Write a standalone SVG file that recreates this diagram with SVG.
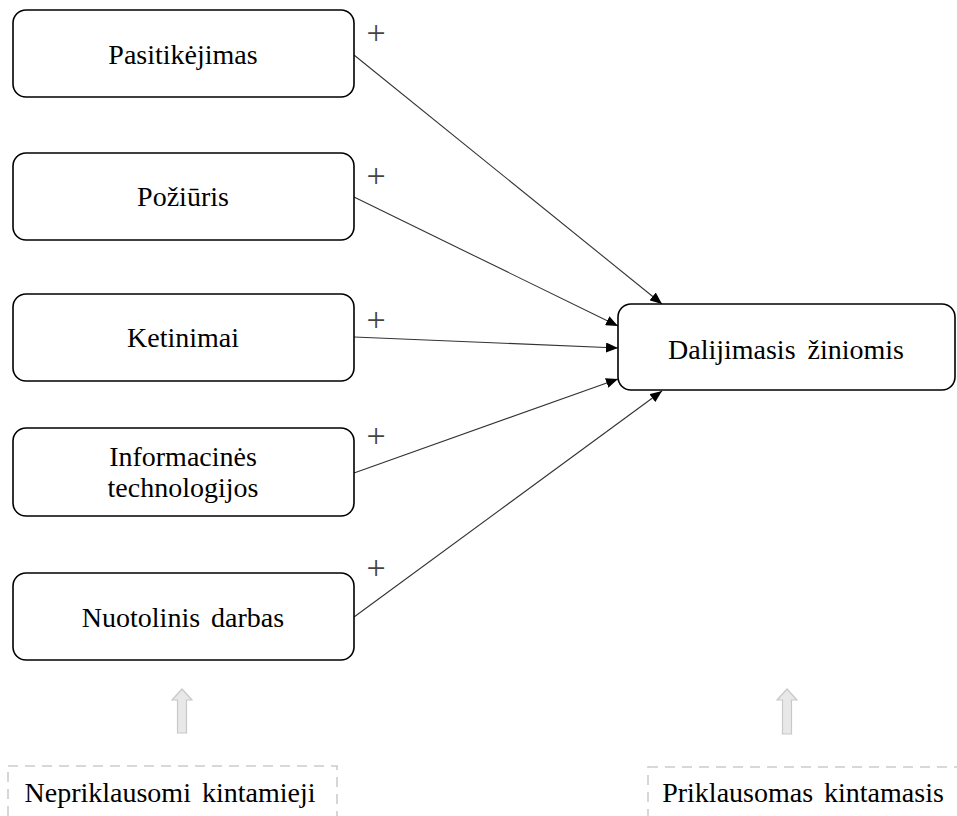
<svg xmlns="http://www.w3.org/2000/svg" width="957" height="816" viewBox="0 0 957 816">
  <style>
    .box { fill: #ffffff; stroke: #000000; stroke-width: 1.6; }
    .lbl { font-family: "Liberation Serif", "Times New Roman", serif; font-size: 28px; fill: #000000; text-anchor: middle; }
    .plus { font-family: "Liberation Serif", "Times New Roman", serif; font-size: 34px; fill: #444444; text-anchor: middle; }
    .edge { stroke: #333333; stroke-width: 1.1; fill: none; marker-end: url(#head); }
    .legend { fill: none; stroke: #cccccc; stroke-width: 1.6; stroke-dasharray: 10 7; }
    .uparrow { fill: #e8e8e8; stroke: #c8c8c8; stroke-width: 1.2; }
  </style>
  <defs>
    <marker id="head" viewBox="0 0 12 10" refX="12" refY="5" markerWidth="12" markerHeight="10" markerUnits="userSpaceOnUse" orient="auto">
      <path d="M0,0 L12,5 L0,10 Z" fill="#000000"/>
    </marker>
  </defs>

  <rect width="957" height="816" fill="#ffffff"/>

  <!-- connectors -->
  <g id="connectors">
    <line class="edge" x1="354" y1="55" x2="662" y2="304"/>
    <line class="edge" x1="354" y1="197" x2="618" y2="326"/>
    <line class="edge" x1="354" y1="337" x2="618" y2="348"/>
    <line class="edge" x1="354" y1="473" x2="618" y2="379"/>
    <line class="edge" x1="354" y1="617" x2="662" y2="391"/>
    <text class="plus" x="376" y="44">+</text>
    <text class="plus" x="376" y="187">+</text>
    <text class="plus" x="376" y="331">+</text>
    <text class="plus" x="376" y="447">+</text>
    <text class="plus" x="376" y="579">+</text>
  </g>

  <!-- independent variables -->
  <g id="pasitikejimas">
    <rect class="box" x="13" y="10" width="341" height="87" rx="13"/>
    <text class="lbl" x="183" y="64">Pasitikėjimas</text>
  </g>
  <g id="poziuris">
    <rect class="box" x="13" y="153" width="341" height="87" rx="13"/>
    <text class="lbl" x="183" y="206">Požiūris</text>
  </g>
  <g id="ketinimai">
    <rect class="box" x="13" y="294" width="341" height="87" rx="13"/>
    <text class="lbl" x="183" y="347">Ketinimai</text>
  </g>
  <g id="informacines-technologijos">
    <rect class="box" x="13" y="428" width="341" height="88" rx="13"/>
    <text class="lbl" x="183" y="466">Informacinės</text>
    <text class="lbl" x="183" y="497">technologijos</text>
  </g>
  <g id="nuotolinis-darbas">
    <rect class="box" x="13" y="573" width="341" height="87" rx="13"/>
    <text class="lbl" x="183" y="627" word-spacing="4">Nuotolinis darbas</text>
  </g>

  <!-- dependent variable -->
  <g id="dalijimasis-ziniomis">
    <rect class="box" x="618" y="304" width="337" height="86" rx="13"/>
    <text class="lbl" x="786" y="359" word-spacing="5">Dalijimasis žiniomis</text>
  </g>

  <!-- legend -->
  <g id="legend-independent">
    <path class="uparrow" d="M182,689 L192,700 L186.5,700 L186.5,733 L177.5,733 L177.5,700 L172,700 Z"/>
    <rect class="legend" x="8" y="766" width="329" height="70"/>
    <text class="lbl" x="170" y="802" word-spacing="4">Nepriklausomi kintamieji</text>
  </g>
  <g id="legend-dependent">
    <path class="uparrow" d="M787,689 L797,700 L791.5,700 L791.5,734 L782.5,734 L782.5,700 L777,700 Z"/>
    <rect class="legend" x="648" y="767" width="330" height="70"/>
    <text class="lbl" x="803" y="802" word-spacing="4">Priklausomas kintamasis</text>
  </g>
</svg>
